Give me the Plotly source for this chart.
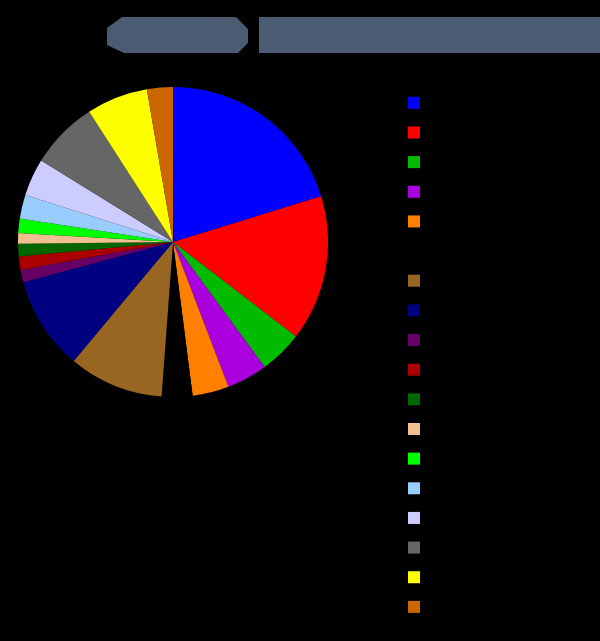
import plotly.graph_objects as go

labels = ["Category A", "Category B", "Category C", "Category D", "Category E",
          "Category F", "Category G", "Category H", "Category I", "Category J",
          "Category K", "Category L", "Category M", "Category N", "Category O",
          "Category P", "Category Q", "Category R"]
values = [20.25, 15.2, 4.5, 4.25, 3.8, 3.2, 9.9, 9.75, 1.3, 1.4,
          1.3, 1.1, 1.5, 2.5, 3.9, 7.1, 6.4, 2.7]
colors = ["#0000ff", "#ff0000", "#00bb00", "#aa00dd", "#ff8000", "#000000",
          "#996622", "#000080", "#660066", "#aa0000", "#006600", "#f0c090",
          "#00ff00", "#99ccff", "#ccccff", "#666666", "#ffff00", "#cc6600"]
title_text = "Distribution Overview"
badge_text = "Chart"

W, H = 600, 641
fig = go.Figure(go.Pie(
    labels=labels, values=values, sort=False, direction="clockwise",
    rotation=0, textinfo="none", hoverinfo="label+percent",
    marker=dict(colors=colors, line=dict(width=0)),
    domain=dict(x=[17 / W, 329 / W], y=[1 - 397 / H, 1 - 87 / H]),
))

block = "#4b5b71"
fig.update_layout(
    width=W, height=H,
    paper_bgcolor="#000000", plot_bgcolor="#000000",
    margin=dict(l=0, r=0, t=0, b=0, autoexpand=False),
    showlegend=True,
    legend=dict(x=394 / W, y=1 - 83 / H, xanchor="left", yanchor="top",
                font=dict(family="Liberation Sans", size=20.5, color="#000000"),
                bgcolor="rgba(0,0,0,0)"),
    title=dict(text=title_text, x=429 / W, y=1 - 35 / H, xanchor="center", yanchor="middle",
               font=dict(family="Liberation Sans", size=24, color=block)),
    annotations=[dict(text=badge_text, x=177 / W, y=1 - 35 / H, xref="paper", yref="paper",
                      xanchor="center", yanchor="middle", showarrow=False,
                      font=dict(family="Liberation Sans", size=24, color=block))],
    shapes=[
        dict(type="path", xref="paper", yref="paper", layer="below",
             path=f"M {122/W},{1-17/H} L {236/W},{1-17/H} L {248/W},{1-29/H} L {248/W},{1-43/H} "
                  f"L {238/W},{1-53/H} L {124/W},{1-53/H} L {107/W},{1-45/H} L {107/W},{1-28/H} Z",
             fillcolor=block, line=dict(width=0)),
        dict(type="rect", xref="paper", yref="paper", layer="below",
             x0=259 / W, x1=1, y0=1 - 53 / H, y1=1 - 17 / H,
             fillcolor=block, line=dict(width=0)),
    ],
)

fig.write_html("out.html", config={"displayModeBar": False},
               post_script="document.body.style.margin='0';document.body.style.background='#000';")
